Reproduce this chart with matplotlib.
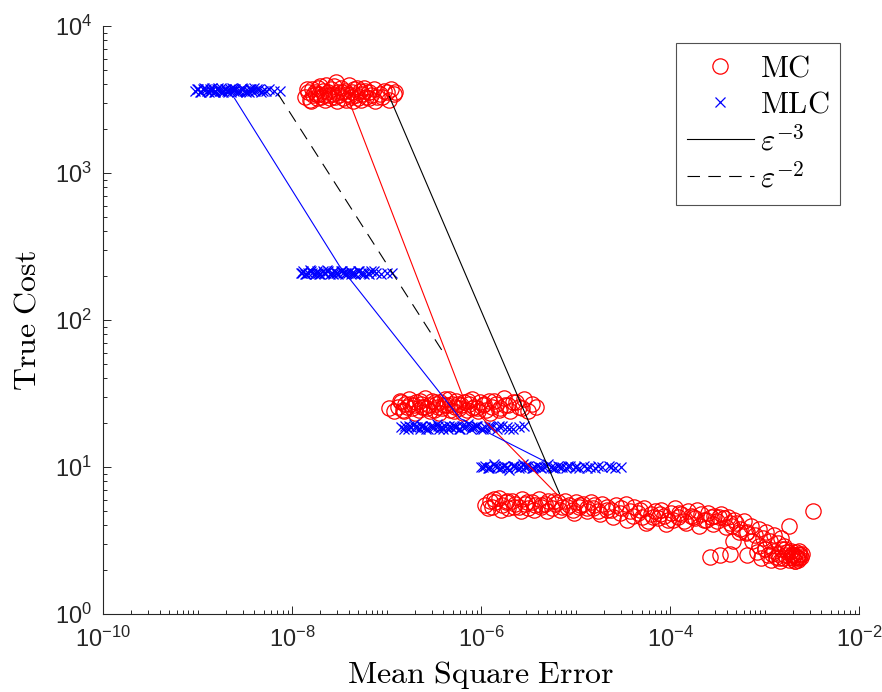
import numpy as np
import matplotlib
matplotlib.use("Agg")
import matplotlib.pyplot as plt
from matplotlib.lines import Line2D
from matplotlib.font_manager import FontProperties
from matplotlib.ticker import FixedLocator, LogLocator, FuncFormatter, NullFormatter

# all values are log10(MSE) and log10(cost)

# MC samples
mc1_x = [-7.86, -7.83, -7.81, -7.79, -7.78, -7.76, -7.74, -7.72, -7.71, -7.69, -7.67, -7.66, -7.64, -7.62, -7.60,
         -7.59, -7.57, -7.55, -7.53, -7.51, -7.50, -7.48, -7.46, -7.44, -7.42, -7.40, -7.38, -7.36, -7.34, -7.32,
         -7.30, -7.28, -7.26, -7.24, -7.22, -7.19, -7.16, -7.13, -7.10, -7.07, -7.03, -6.99, -6.95, -6.92,
         -7.84, -7.80, -7.75, -7.70, -7.65, -7.61, -7.56, -7.52, -7.47, -7.43, -7.39, -7.35, -7.31, -7.27,
         -7.23, -7.18, -7.12, -7.05, -6.97, -6.91]
mc1_y = [3.52, 3.55, 3.50, 3.57, 3.53, 3.55, 3.51, 3.58, 3.54, 3.52, 3.56, 3.53, 3.60, 3.55, 3.51,
         3.57, 3.54, 3.52, 3.62, 3.55, 3.53, 3.58, 3.51, 3.56, 3.54, 3.60, 3.52, 3.55, 3.57, 3.53,
         3.51, 3.56, 3.54, 3.58, 3.52, 3.55, 3.53, 3.57, 3.52, 3.54, 3.56, 3.55, 3.57, 3.54,
         3.57, 3.49, 3.54, 3.59, 3.50, 3.53, 3.59, 3.49, 3.55, 3.50, 3.53, 3.49, 3.58, 3.50,
         3.56, 3.51, 3.49, 3.52, 3.50, 3.55]

mc2_x = [-6.97, -6.88, -6.85, -6.83, -6.80, -6.78, -6.76, -6.73, -6.71, -6.69, -6.66, -6.64, -6.62, -6.59, -6.57,
         -6.55, -6.52, -6.50, -6.48, -6.45, -6.43, -6.41, -6.38, -6.36, -6.33, -6.31, -6.28, -6.26, -6.23, -6.21,
         -6.18, -6.15, -6.13, -6.10, -6.07, -6.04, -6.01, -5.98, -5.95, -5.92, -5.88, -5.84, -5.80, -5.76, -5.71,
         -5.66, -5.60, -5.54, -5.42,
         -6.92, -6.86, -6.81, -6.75, -6.70, -6.65, -6.60, -6.54, -6.49, -6.44, -6.39, -6.34, -6.29, -6.24,
         -6.19, -6.14, -6.09, -6.03, -5.97, -5.91, -5.86, -5.81, -5.75, -5.69, -5.63, -5.57, -5.50, -5.46]
mc2_y = [1.40, 1.41, 1.44, 1.39, 1.43, 1.41, 1.46, 1.40, 1.42, 1.44, 1.39, 1.43, 1.41, 1.47, 1.40,
         1.42, 1.45, 1.39, 1.43, 1.41, 1.44, 1.40, 1.46, 1.42, 1.39, 1.43, 1.41, 1.45, 1.40, 1.42,
         1.44, 1.39, 1.43, 1.46, 1.41, 1.40, 1.44, 1.42, 1.39, 1.45, 1.41, 1.43, 1.40, 1.47, 1.42,
         1.44, 1.41, 1.46, 1.41,
         1.38, 1.45, 1.38, 1.43, 1.37, 1.45, 1.41, 1.38, 1.44, 1.37, 1.42, 1.46, 1.38, 1.43,
         1.37, 1.45, 1.40, 1.38, 1.43, 1.37, 1.45, 1.39, 1.42, 1.38, 1.44, 1.40, 1.38, 1.43]

mc3_x = [-5.96, -5.91, -5.88, -5.85, -5.81, -5.78, -5.74, -5.71, -5.67, -5.64, -5.60, -5.57, -5.53, -5.50,
         -5.46, -5.43, -5.39, -5.36, -5.32, -5.29, -5.25, -5.22, -5.18, -5.14, -5.11, -5.07, -5.03, -5.00,
         -4.96, -4.92, -4.88, -4.84, -4.80, -4.76, -4.72, -4.67, -4.62, -4.57, -4.52, -4.47, -4.42, -4.38,
         -4.34, -4.30, -4.27, -4.23, -4.20, -4.16, -4.13, -4.09, -4.06, -4.02, -3.99, -3.95, -3.92, -3.88,
         -3.85, -3.81, -3.78, -3.74, -3.71, -3.67, -3.64, -3.60, -3.57, -3.53, -3.50, -3.46, -3.43, -3.39,
         -3.36, -3.32,
         -3.30, -3.26, -3.22, -3.18, -3.14, -3.10, -3.06, -3.02, -2.98, -2.94, -2.90, -2.86, -2.83, -2.79,
         -3.08, -3.04, -3.00, -2.96, -2.93, -2.90, -2.88, -2.86, -2.84, -2.82, -2.80, -2.78, -2.76, -2.74,
         -2.73, -2.71, -2.70, -2.69, -2.68, -2.67, -2.66, -2.65, -2.64, -2.63, -2.62, -2.61, -2.60, -2.72,
         -2.68, -2.64,
         -3.58, -3.47, -3.37, -3.19, -3.33, -2.74, -2.49,
         -5.93, -5.86, -5.79, -5.72, -5.65, -5.58, -5.51, -5.44, -5.37, -5.30, -5.23, -5.16, -5.09, -5.02,
         -4.95, -4.88, -4.81, -4.74, -4.67, -4.60, -4.53, -4.46, -4.39, -4.32, -4.25, -4.18, -4.11, -4.04,
         -3.97, -3.90, -3.83, -3.76, -3.69, -3.62, -3.55, -3.48, -3.41, -3.34, -3.27, -3.20, -3.13, -3.06,
         -2.99, -2.92, -2.85, -2.78, -2.71, -2.66]
mc3_y = [0.74, 0.77, 0.73, 0.76, 0.79, 0.74, 0.76, 0.72, 0.77, 0.75, 0.73, 0.78, 0.75, 0.72,
         0.76, 0.74, 0.78, 0.73, 0.75, 0.77, 0.72, 0.75, 0.76, 0.73, 0.77, 0.74, 0.71, 0.76,
         0.73, 0.75, 0.72, 0.76, 0.74, 0.70, 0.75, 0.73, 0.71, 0.74, 0.72, 0.75, 0.70, 0.73,
         0.69, 0.66, 0.72, 0.63, 0.68, 0.70, 0.65, 0.71, 0.67, 0.64, 0.69, 0.72, 0.66, 0.68,
         0.63, 0.70, 0.67, 0.65, 0.71, 0.68, 0.64, 0.69, 0.66, 0.67, 0.63, 0.68, 0.65, 0.66,
         0.62, 0.64,
         0.62, 0.58, 0.63, 0.56, 0.60, 0.54, 0.58, 0.52, 0.56, 0.50, 0.54, 0.48, 0.52, 0.46,
         0.42, 0.38, 0.44, 0.40, 0.37, 0.43, 0.39, 0.41, 0.36, 0.44, 0.38, 0.40, 0.42, 0.37,
         0.39, 0.41, 0.38, 0.40, 0.36, 0.42, 0.39, 0.37, 0.41, 0.38, 0.40, 0.39, 0.41, 0.43,
         0.36, 0.43,
         0.39, 0.40, 0.41, 0.40, 0.50, 0.60, 0.70,
         0.72, 0.78, 0.71, 0.77, 0.73, 0.70, 0.76, 0.71, 0.74, 0.70, 0.77, 0.71, 0.73, 0.69,
         0.74, 0.70, 0.72, 0.68, 0.71, 0.66, 0.69, 0.64, 0.67, 0.71, 0.62, 0.66, 0.68, 0.61,
         0.64, 0.69, 0.62, 0.66, 0.60, 0.64, 0.61, 0.66, 0.59, 0.60, 0.56, 0.55, 0.50, 0.46,
         0.44, 0.41, 0.38, 0.44, 0.40, 0.38]

# MLC samples
mlc1_x = [-9.03, -8.99, -8.97, -8.94, -8.93, -8.90, -8.88, -8.87, -8.85, -8.82, -8.81, -8.79, -8.76, -8.75,
          -8.73, -8.71, -8.69, -8.68, -8.66, -8.63, -8.61, -8.60, -8.58, -8.55, -8.53, -8.52, -8.49, -8.47,
          -8.44, -8.42, -8.40, -8.37, -8.33, -8.28, -8.24, -8.19, -8.13,
          -9.01, -8.96, -8.91, -8.86, -8.83, -8.78, -8.74, -8.70, -8.65, -8.62, -8.57, -8.54, -8.50, -8.46,
          -8.43, -8.39, -8.35, -8.31]
mlc1_y = [3.56, 3.57, 3.55, 3.57, 3.58, 3.56, 3.55, 3.57, 3.58, 3.56, 3.55, 3.57, 3.56, 3.58,
          3.55, 3.57, 3.56, 3.55, 3.57, 3.58, 3.56, 3.57, 3.55, 3.56, 3.58, 3.57, 3.55, 3.56,
          3.57, 3.56, 3.58, 3.57, 3.55, 3.56, 3.57, 3.56, 3.56,
          3.57, 3.55, 3.57, 3.56, 3.55, 3.58, 3.56, 3.57, 3.55, 3.57, 3.56, 3.57, 3.56, 3.55,
          3.57, 3.56, 3.57, 3.56]

mlc2_x = [-7.91, -7.88, -7.86, -7.83, -7.81, -7.79, -7.76, -7.74, -7.72, -7.70, -7.67, -7.65, -7.63, -7.60,
          -7.58, -7.56, -7.53, -7.51, -7.48, -7.46, -7.44, -7.41, -7.39, -7.36, -7.33, -7.30, -7.27, -7.24,
          -7.20, -7.16, -7.11, -7.06, -7.00, -6.94,
          -7.89, -7.85, -7.80, -7.75, -7.71, -7.66, -7.62, -7.57, -7.52, -7.47, -7.43, -7.38, -7.34, -7.29,
          -7.25, -7.18, -7.13]
mlc2_y = [2.32, 2.33, 2.31, 2.32, 2.34, 2.32, 2.31, 2.33, 2.32, 2.31, 2.33, 2.32, 2.34, 2.31,
          2.32, 2.33, 2.32, 2.31, 2.33, 2.32, 2.31, 2.32, 2.33, 2.32, 2.31, 2.33, 2.32, 2.31,
          2.32, 2.33, 2.32, 2.31, 2.32, 2.32,
          2.32, 2.31, 2.33, 2.32, 2.31, 2.32, 2.33, 2.31, 2.32, 2.33, 2.32, 2.31, 2.32, 2.33,
          2.32, 2.31, 2.33]

mlc3_x = [-6.85, -6.80, -6.77, -6.74, -6.71, -6.68, -6.65, -6.62, -6.59, -6.56, -6.53, -6.50, -6.47, -6.44,
          -6.41, -6.38, -6.35, -6.32, -6.29, -6.26, -6.23, -6.20, -6.17, -6.14, -6.11, -6.07, -6.04, -6.00,
          -5.96, -5.92, -5.88, -5.83, -5.78, -5.72, -5.66, -5.60, -5.54,
          -6.82, -6.76, -6.70, -6.64, -6.58, -6.52, -6.46, -6.40, -6.34, -6.28, -6.22, -6.16, -6.10, -6.05,
          -5.98, -5.90, -5.81, -5.70]
mlc3_y = [1.27, 1.28, 1.26, 1.27, 1.29, 1.27, 1.26, 1.28, 1.27, 1.26, 1.28, 1.27, 1.29, 1.26,
          1.27, 1.28, 1.26, 1.27, 1.28, 1.27, 1.26, 1.28, 1.27, 1.29, 1.26, 1.27, 1.28, 1.26,
          1.27, 1.28, 1.27, 1.26, 1.28, 1.27, 1.26, 1.27, 1.28,
          1.26, 1.28, 1.27, 1.28, 1.26, 1.27, 1.28, 1.26, 1.28, 1.27, 1.26, 1.28, 1.27, 1.28,
          1.26, 1.27, 1.28, 1.26]

mlc4_x = [-6.00, -5.96, -5.93, -5.90, -5.86, -5.83, -5.80, -5.76, -5.73, -5.70, -5.66, -5.63, -5.60, -5.56,
          -5.53, -5.50, -5.46, -5.43, -5.40, -5.36, -5.33, -5.29, -5.26, -5.22, -5.18, -5.14, -5.10, -5.06,
          -5.01, -4.96, -4.91, -4.85, -4.79, -4.72, -4.65, -4.58, -4.52,
          -5.98, -5.92, -5.85, -5.78, -5.72, -5.65, -5.58, -5.52, -5.45, -5.38, -5.31, -5.24, -5.16, -5.08,
          -4.99, -4.88, -4.76, -4.62]
mlc4_y = [1.00, 1.01, 0.99, 1.00, 1.02, 1.00, 0.99, 1.01, 1.00, 0.98, 1.01, 1.00, 0.99, 1.02,
          1.00, 1.01, 0.99, 1.00, 1.01, 0.99, 1.00, 1.02, 1.00, 0.99, 1.01, 1.00, 0.99, 1.01,
          1.00, 0.99, 1.01, 1.00, 0.99, 1.00, 1.01, 0.99, 1.00,
          1.00, 0.99, 1.01, 1.00, 0.99, 1.01, 1.00, 1.01, 0.99, 1.00, 1.01, 0.99, 1.00, 1.01,
          1.00, 0.99, 1.01, 1.00]

# connecting lines and reference slopes
mc_path_x = [-7.39, -6.18, -5.19]
mc_path_y = [3.48, 1.46, 0.81]
mlc_path_x = [-8.61, -7.50, -6.22, -5.30]
mlc_path_y = [3.51, 2.37, 1.33, 1.03]
ref3_x = [-6.97, -5.17]
ref3_y = [3.52, 0.82]
ref2_x = [-8.15, -6.37]
ref2_y = [3.54, 1.75]

x_major = [-10, -8, -6, -4, -2]
y_major = [0, 1, 2, 3, 4]


def p10(v):
    return 10.0 ** np.asarray(v)


plt.rcParams['mathtext.fontset'] = 'custom'
plt.rcParams['mathtext.rm'] = 'Liberation Sans'
plt.rcParams['mathtext.it'] = 'Liberation Sans:italic'
plt.rcParams['mathtext.bf'] = 'Liberation Sans:bold'
plt.rcParams['font.family'] = 'Liberation Sans'
plt.rcParams['lines.scale_dashes'] = False

fig = plt.figure(figsize=(8.82, 6.92), dpi=100)
ax = fig.add_axes([103 / 882, 1 - 614 / 692, 756 / 882, 588 / 692])
ax.set_xscale('log')
ax.set_yscale('log')

mc_x = mc1_x + mc2_x + mc3_x
mc_y = mc1_y + mc2_y + mc3_y
mlc_x = mlc1_x + mlc2_x + mlc3_x + mlc4_x
mlc_y = mlc1_y + mlc2_y + mlc3_y + mlc4_y

ax.plot(p10(mc_x), p10(mc_y), 'o', color='red', mfc='none', ms=11, mew=0.9, zorder=2)
ax.plot(p10(mlc_x), p10(mlc_y), 'x', color='blue', ms=6.5, mew=0.9, zorder=2)

ax.plot(p10(mc_path_x), p10(mc_path_y), '-', color='red', lw=0.8, zorder=3)
ax.plot(p10(mlc_path_x), p10(mlc_path_y), '-', color='blue', lw=0.8, zorder=3)
ax.plot(p10(ref3_x), p10(ref3_y), '-', color='black', lw=0.8, zorder=3)
ax.plot(p10(ref2_x), p10(ref2_y), color='black', lw=0.8, dashes=(9, 6), zorder=3)

ax.set_xlim(1e-10, 1e-2)
ax.set_ylim(1e0, 1e4)

ax.xaxis.set_major_locator(FixedLocator(p10(x_major)))
ax.yaxis.set_major_locator(FixedLocator(p10(y_major)))
ax.xaxis.set_minor_locator(LogLocator(base=10, subs=np.arange(1, 10), numticks=50))
ax.yaxis.set_minor_locator(LogLocator(base=10, subs=np.arange(2, 10), numticks=50))
ax.xaxis.set_minor_formatter(NullFormatter())
ax.yaxis.set_minor_formatter(NullFormatter())
fmt = FuncFormatter(lambda v, pos: r'$\mathregular{10^{%d}}$' % int(round(np.log10(v))))
ax.xaxis.set_major_formatter(fmt)
ax.yaxis.set_major_formatter(fmt)

for side in ['top', 'right']:
    ax.spines[side].set_visible(False)
for side in ['left', 'bottom']:
    ax.spines[side].set_linewidth(0.8)
    ax.spines[side].set_color('#262626')
ax.tick_params(which='both', direction='in', color='#262626', width=0.7)
ax.tick_params(which='major', length=6, labelsize=17, labelcolor='#262626')
ax.tick_params(which='minor', length=3)
ax.tick_params(axis='x', pad=9)
ax.tick_params(axis='y', pad=8)

label_font = FontProperties(size=23, math_fontfamily='cm')
ax.set_xlabel(r'$\mathrm{Mean\ Square\ Error}$', fontproperties=label_font, labelpad=5)
ax.set_ylabel(r'$\mathrm{True\ Cost}$', fontproperties=label_font, labelpad=9)

handles = [
    Line2D([], [], ls='none', marker='o', color='red', mfc='none', ms=11, mew=0.9),
    Line2D([], [], ls='none', marker='x', color='blue', ms=7, mew=0.9),
    Line2D([], [], ls='-', color='black', lw=0.8),
    Line2D([], [], color='black', lw=0.8, dashes=(9, 6)),
]
labels = [r'$\mathrm{MC}$', r'$\mathrm{MLC}$', r'$\varepsilon^{-3}$', r'$\varepsilon^{-2}$']
leg = ax.legend(handles, labels, loc='upper right', bbox_to_anchor=(840 / 882, 1 - 43 / 692),
                bbox_transform=fig.transFigure, borderaxespad=0, fancybox=False,
                prop=FontProperties(size=22, math_fontfamily='cm'), handlelength=2.2,
                handletextpad=0.2, labelspacing=0.2, borderpad=0.35)
leg.get_frame().set_edgecolor('#262626')
leg.get_frame().set_linewidth(0.8)

fig.savefig('out.png', dpi=100)
